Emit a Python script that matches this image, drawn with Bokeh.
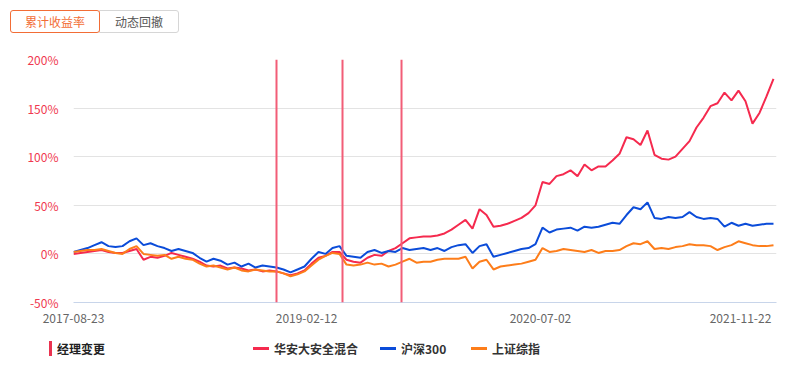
from bokeh.plotting import figure
from bokeh.models import Range1d, FixedTicker, Span, Div
from bokeh.layouts import column
from bokeh.embed import file_html
from bokeh.resources import INLINE

# --- data (cumulative return, %, sampled along the time axis) ---
fund = [0, 1, 2, 3, 4, 2, 1, 1, 3, 5, -6, -3, -4, -2, 1, -1, -3, -5, -8, -12,
        -13, -12, -15, -14, -15, -17, -16, -18, -17, -18, -20, -22, -20, -17, -10, -4, -2, 2, 2, -6,
        -8, -9, -4, -1, -2, 3, 6, 11, 16, 17, 18, 18, 19, 21, 25, 30, 35, 26, 46, 40,
        28, 29, 31, 34, 37, 42, 50, 74, 72, 80, 82, 86, 80, 92, 86, 90, 90, 96, 103, 120,
        118, 112, 127, 102, 98, 97, 100, 108, 116, 130, 140, 152, 155, 166, 158, 168, 157, 134, 145, 162,
        180]
hs300 = [2, 4, 6, 9, 12, 8, 7, 8, 13, 16, 9, 11, 8, 6, 3, 5, 3, 1, -4, -8,
         -5, -7, -11, -9, -13, -10, -14, -12, -13, -14, -16, -19, -16, -13, -5, 2, 0, 6, 8, -2,
         -3, -4, 2, 4, 1, 3, 2, 6, 4, 5, 6, 4, 6, 3, 7, 9, 10, 1, 8, 10,
         -3, -1, 1, 3, 5, 6, 10, 27, 22, 25, 26, 27, 24, 28, 27, 28, 30, 32, 31, 40,
         48, 46, 53, 37, 36, 38, 37, 38, 43, 38, 36, 37, 36, 28, 32, 29, 31, 29, 30, 31,
         31]
szzs = [2, 3, 4, 4, 5, 3, 1, 0, 5, 8, 0, -1, -2, -1, -5, -3, -5, -6, -10, -13,
        -12, -14, -16, -14, -17, -18, -16, -17, -18, -18, -20, -23, -21, -18, -12, -6, -2, 1, 0, -11,
        -12, -11, -9, -11, -10, -13, -11, -8, -5, -9, -8, -8, -6, -5, -5, -5, -3, -15, -8, -6,
        -16, -13, -12, -11, -10, -8, -6, 6, 2, 3, 5, 4, 3, 2, 4, 1, 3, 3, 4, 8,
        11, 10, 13, 5, 6, 5, 7, 8, 10, 9, 9, 8, 4, 7, 9, 13, 11, 9, 8, 8,
        9]
x_index = list(range(len(fund)))
x_end = 100.43

date_tick_pos = [0, 33.29, 66.71, 95.29]
date_tick_labels = ["2017-08-23", "2019-02-12", "2020-07-02", "2021-11-22"]
manager_change_pos = [29.0, 38.43, 46.86]
y_ticks = [-50, 0, 50, 100, 150, 200]
y_tick_labels = ["-50%", "0%", "50%", "100%", "150%", "200%"]

series_names = ["华安大安全混合", "沪深300", "上证综指"]
series_colors = ["#f52a4e", "#0b4cd9", "#fd7d1a"]
tab_names = ["累计收益率", "动态回撤"]
marker_name = "经理变更"

FONT = "Noto Sans CJK SC"
W = 790

# --- header tabs ---
header_html = (
    f'<div style="position:relative;width:{W}px;height:40px;font-family:\'{FONT}\';font-size:12px;">'
    f'<div style="position:absolute;left:10px;top:10px;width:90px;height:23px;box-sizing:border-box;'
    f'border:1px solid #f26d36;border-radius:3px;color:#f26d36;display:flex;align-items:center;'
    f'justify-content:center;background:#fff;z-index:2;">{tab_names[0]}</div>'
    f'<div style="position:absolute;left:99px;top:10px;width:80px;height:23px;box-sizing:border-box;'
    f'border:1px solid #d6d6d6;border-radius:0 3px 3px 0;color:#555;display:flex;align-items:center;'
    f'justify-content:center;background:#fff;z-index:1;">{tab_names[1]}</div>'
    '</div>'
)
header = Div(text=header_html, width=W, height=40, margin=0)

# --- chart ---
p = figure(width=W, height=290, output_backend="svg", toolbar_location=None,
           x_range=Range1d(0, x_end), y_range=Range1d(-50, 200),
           min_border_left=73, min_border_right=W - 776, min_border_top=19,
           min_border_bottom=28, margin=0)
p.outline_line_color = None
p.background_fill_color = "white"
p.border_fill_color = "white"

p.xgrid.grid_line_color = None
p.ygrid.grid_line_color = "#e3e3e3"
p.ygrid.ticker = FixedTicker(ticks=y_ticks)

p.yaxis.ticker = FixedTicker(ticks=y_ticks)
p.yaxis.major_label_overrides = {t: l for t, l in zip(y_ticks, y_tick_labels)}
p.yaxis.axis_line_color = None
p.yaxis.major_tick_line_color = None
p.yaxis.minor_tick_line_color = None
p.yaxis.major_label_text_color = "#f0394f"
p.yaxis.major_label_text_font = FONT
p.yaxis.major_label_text_font_size = "12px"
p.yaxis.major_label_standoff = 9

p.xaxis.ticker = FixedTicker(ticks=date_tick_pos)
p.xaxis.major_label_overrides = {t: l for t, l in zip(date_tick_pos, date_tick_labels)}
p.xaxis.axis_line_color = "#c8d5ea"
p.xaxis.major_tick_line_color = None
p.xaxis.minor_tick_line_color = None
p.xaxis.major_label_text_color = "#666666"
p.xaxis.major_label_text_font = FONT
p.xaxis.major_label_text_font_size = "12px"
p.xaxis.major_label_standoff = 5

for vals, col in zip([fund, hs300, szzs], series_colors):
    p.line(x_index, vals, line_color=col, line_width=2)

for pos in manager_change_pos:
    p.add_layout(Span(location=pos, dimension="height", line_color="#f25d77",
                      line_width=2))

# --- bottom legend ---
legend_x = [253, 380, 471]
parts = [
    f'<div style="position:relative;width:{W}px;height:37px;font-family:\'{FONT}\';'
    f'font-size:12px;font-weight:bold;color:#333;">',
    '<div style="position:absolute;left:49px;top:11px;width:3px;height:15px;background:#ea3350;"></div>',
    f'<div style="position:absolute;left:57px;top:10px;height:18px;line-height:18px;color:#222;">{marker_name}</div>',
]
for lx, name, col in zip(legend_x, series_names, series_colors):
    parts.append(f'<div style="position:absolute;left:{lx}px;top:17px;width:16px;height:3px;background:{col};"></div>')
    parts.append(f'<div style="position:absolute;left:{lx + 21}px;top:10px;height:18px;line-height:18px;">{name}</div>')
parts.append('</div>')
legend = Div(text="".join(parts), width=W, height=37, margin=0)

layout = column(header, p, legend, spacing=0)

open("out.html", "w").write(file_html(layout, INLINE))
